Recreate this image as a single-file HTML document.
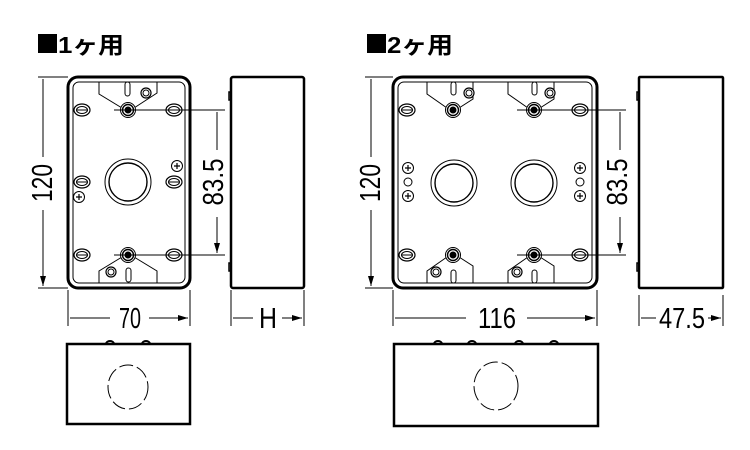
<!DOCTYPE html>
<html><head><meta charset="utf-8"><style>
html,body{margin:0;padding:0;background:#fff;width:750px;height:450px;overflow:hidden}
svg{display:block}
.t{font-family:"Liberation Sans","Noto Sans CJK JP",sans-serif;font-weight:bold;font-size:23px}
.d{font-family:"Liberation Sans",sans-serif;font-size:29px}
</style></head><body>
<svg width="750" height="450" viewBox="0 0 750 450" xmlns="http://www.w3.org/2000/svg">
<defs>
<marker id="a" markerWidth="10" markerHeight="8" refX="10" refY="4" orient="auto-start-reverse" markerUnits="userSpaceOnUse"><path d="M0,1 L10,4 L0,7 Z" fill="#000"/></marker>
<g id="slot"><ellipse cx="0" cy="0" rx="8" ry="6" fill="#fff" stroke="#000" stroke-width="1.2"/><ellipse cx="0" cy="0" rx="5.5" ry="3.5" fill="none" stroke="#000" stroke-width="1"/><line x1="-5" y1="0" x2="5" y2="0" stroke="#000" stroke-width="1"/></g>
<g id="scr"><circle r="7.5" fill="#fff" stroke="#000" stroke-width="1"/><circle r="5.5" fill="none" stroke="#000" stroke-width="1.4"/><circle r="3" fill="#000"/></g>
<g id="sm"><circle r="5" fill="#fff" stroke="#000" stroke-width="1.2"/><circle r="3" fill="none" stroke="#000" stroke-width="1"/></g>
<g id="ph"><circle r="5.5" fill="#fff" stroke="#000" stroke-width="1"/><path d="M-3,0H3M0,-3V3" stroke="#000" stroke-width="1.2"/></g>
<g id="ko"><circle r="23" fill="#fff" stroke="#000" stroke-width="1"/><circle r="19" fill="none" stroke="#000" stroke-width="1.4"/></g>
</defs>
<g fill="none" stroke="#000">
<rect x="38" y="34" width="19" height="19" fill="#000" stroke="none"/>
<text x="58" y="53" class="t" fill="#000" stroke="none" textLength="66" lengthAdjust="spacingAndGlyphs">1ヶ用</text>
<rect x="367" y="34" width="19" height="19" fill="#000" stroke="none"/>
<text x="387" y="53" class="t" fill="#000" stroke="none" textLength="66" lengthAdjust="spacingAndGlyphs">2ヶ用</text>

<!-- Box1 front -->
<rect x="68" y="77" width="122" height="211" rx="10" stroke-width="3"/>
<rect x="73" y="82" width="112" height="201" rx="6" stroke-width="1"/>
<path d="M99,82V94L122,108M134,108L157,93V82" stroke-width="1"/>
<path d="M99,283V271L122,257M134,257L157,271V283" stroke-width="1"/>
<rect x="125" y="82" width="5" height="14" rx="2.5" stroke-width="1"/>
<rect x="126" y="268" width="5" height="14" rx="2.5" stroke-width="1"/>
<use href="#sm" x="146" y="93"/><use href="#sm" x="111" y="272"/>
<use href="#scr" x="128" y="110"/><use href="#scr" x="128" y="255"/>
<use href="#slot" x="82" y="110"/><use href="#slot" x="174" y="110"/>
<use href="#slot" x="82" y="182"/><use href="#slot" x="174" y="182"/>
<use href="#slot" x="82" y="255"/><use href="#slot" x="174" y="255"/>
<use href="#ph" x="79" y="197"/><use href="#ph" x="177" y="166"/>
<use href="#ko" x="128" y="182"/>
<!-- dims box1 -->
<path d="M38,77H68M38,288H68" stroke-width="1"/>
<path d="M43,157V79M43,210V286" stroke-width="1" marker-end="url(#a)"/>
<text class="d" transform="translate(52,183) rotate(-90)" text-anchor="middle" fill="#000" stroke="none" textLength="38" lengthAdjust="spacingAndGlyphs">120</text>
<path d="M114,110H225M114,255H225" stroke-width="1"/>
<path d="M217,150V112M217,217V253" stroke-width="1" marker-end="url(#a)"/>
<text class="d" transform="translate(223,182) rotate(-90)" text-anchor="middle" fill="#000" stroke="none" textLength="47" lengthAdjust="spacingAndGlyphs">83.5</text>
<path d="M68,290V326M190,290V326" stroke-width="1"/>
<path d="M110,318H70M149,318H188" stroke-width="1" marker-end="url(#a)"/>
<text class="d" x="130" y="328" text-anchor="middle" fill="#000" stroke="none" textLength="22" lengthAdjust="spacingAndGlyphs">70</text>
<!-- side1 -->
<rect x="231" y="77" width="73" height="211" rx="2" stroke-width="2.5"/>
<path d="M231,92h-2v8h2M231,263h-2v8h2" stroke-width="1.5"/>
<path d="M231,290V326M304,290V326" stroke-width="1"/>
<path d="M253,318H233M282,318H302" stroke-width="1" marker-end="url(#a)"/>
<text class="d" x="268" y="328" text-anchor="middle" fill="#000" stroke="none" textLength="18" lengthAdjust="spacingAndGlyphs">H</text>

<!-- Box2 front -->
<rect x="393" y="77" width="204" height="211" rx="10" stroke-width="3"/>
<rect x="398" y="82" width="194" height="201" rx="6" stroke-width="1"/>
<path d="M427,82V94L447,108M459,108L473,99V82" stroke-width="1"/>
<path d="M508,82V94L528,108M540,108L554,99V82" stroke-width="1"/>
<path d="M427,283V271L447,257M459,257L473,266V283" stroke-width="1"/>
<path d="M508,283V271L528,257M540,257L554,266V283" stroke-width="1"/>
<rect x="451" y="82" width="5" height="13" rx="2.5" stroke-width="1"/>
<rect x="532" y="82" width="5" height="13" rx="2.5" stroke-width="1"/>
<rect x="451" y="270" width="5" height="13" rx="2.5" stroke-width="1"/>
<rect x="532" y="270" width="5" height="13" rx="2.5" stroke-width="1"/>
<use href="#sm" x="469" y="93"/><use href="#sm" x="550" y="93"/>
<use href="#sm" x="436" y="272"/><use href="#sm" x="517" y="272"/>
<use href="#scr" x="453" y="110"/><use href="#scr" x="534" y="110"/>
<use href="#scr" x="453" y="255"/><use href="#scr" x="534" y="255"/>
<use href="#slot" x="407" y="110"/><use href="#slot" x="580" y="110"/>
<use href="#slot" x="407" y="255"/><use href="#slot" x="580" y="255"/>
<use href="#ph" x="408" y="168"/><use href="#ph" x="408" y="196"/>
<use href="#ph" x="580" y="168"/><use href="#ph" x="580" y="196"/>
<circle cx="408" cy="182" r="4" stroke-width="1"/><circle cx="580" cy="182" r="4" stroke-width="1"/>
<use href="#ko" x="454" y="183"/><use href="#ko" x="534" y="183"/>
<!-- dims box2 -->
<path d="M365,77H393M365,288H393" stroke-width="1"/>
<path d="M371,157V79M371,210V286" stroke-width="1" marker-end="url(#a)"/>
<text class="d" transform="translate(380,183) rotate(-90)" text-anchor="middle" fill="#000" stroke="none" textLength="38" lengthAdjust="spacingAndGlyphs">120</text>
<path d="M517,110H626M517,255H626" stroke-width="1"/>
<path d="M620,150V112M620,217V253" stroke-width="1" marker-end="url(#a)"/>
<text class="d" transform="translate(627,182) rotate(-90)" text-anchor="middle" fill="#000" stroke="none" textLength="47" lengthAdjust="spacingAndGlyphs">83.5</text>
<path d="M393,290V326M597,290V326" stroke-width="1"/>
<path d="M466,318H395M527,318H595" stroke-width="1" marker-end="url(#a)"/>
<text class="d" x="497" y="328" text-anchor="middle" fill="#000" stroke="none" textLength="38" lengthAdjust="spacingAndGlyphs">116</text>
<!-- side2 -->
<rect x="639" y="77" width="84" height="211" rx="1" stroke-width="2.5"/>
<path d="M639,92h-2v8h2M639,263h-2v8h2" stroke-width="1.5"/>
<path d="M639,295V326M723,295V326" stroke-width="1"/>
<path d="M656,318H641M708,318H721" stroke-width="1" marker-end="url(#a)"/>
<text class="d" x="682" y="328" text-anchor="middle" fill="#000" stroke="none" textLength="46" lengthAdjust="spacingAndGlyphs">47.5</text>

<!-- bottom views -->
<rect x="67" y="344" width="123" height="80" stroke-width="2.5"/>
<path d="M106,344a4,3 0 0 1 8,0M142,344a4,3 0 0 1 8,0" stroke-width="2"/>
<ellipse cx="128" cy="387" rx="20" ry="22" stroke-width="1" stroke-dasharray="14,4"/>
<rect x="394" y="344" width="204" height="82" stroke-width="2.5"/>
<path d="M434,344a4,3 0 0 1 8,0M468,344a4,3 0 0 1 8,0M515,344a4,3 0 0 1 8,0M550,344a4,3 0 0 1 8,0" stroke-width="2"/>
<ellipse cx="496" cy="386" rx="22" ry="24" stroke-width="1" stroke-dasharray="15,4"/>
</g>
</svg>
</body></html>
